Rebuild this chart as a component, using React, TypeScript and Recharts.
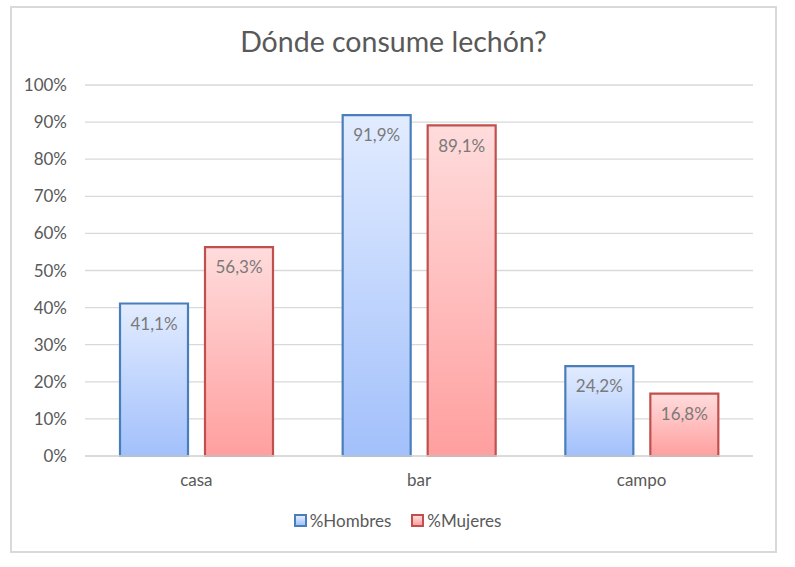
import React from 'react';
import { BarChart, Bar, XAxis, YAxis, CartesianGrid, LabelList } from 'recharts';

const categories = ['casa', 'bar', 'campo'];
const hombres = [41.1, 91.9, 24.2];
const mujeres = [56.3, 89.1, 16.8];
const yTicks = [0, 10, 20, 30, 40, 50, 60, 70, 80, 90, 100];
const title = 'Dónde consume lechón?';
const seriesNames = ['%Hombres', '%Mujeres'];

const data = categories.map((c, i) => ({ name: c, h: hombres[i], m: mujeres[i] }));

const FONT = 'Lato, "Noto Sans", sans-serif';
const fmt = (v: any) => `${Number(v).toFixed(1).replace('.', ',')}%`;

export default function App() {
  return (
    <div style={{ position: 'absolute', left: 0, top: 0, width: 795, height: 567, background: '#ffffff', fontFamily: FONT }}>
      <div style={{ position: 'absolute', left: 10, top: 6, width: 763, height: 543, border: '2px solid #d9d9d9', background: '#fff' }} />
      <div style={{ position: 'absolute', left: 0, top: 24, width: 787, textAlign: 'center', fontSize: 28.5, color: '#595959' }}>{title}</div>
      <div style={{ position: 'absolute', left: 0, top: 0 }}>
        <BarChart width={795} height={567} data={data} margin={{ top: 85, right: 42, bottom: 0, left: 0 }} barGap={17} barSize={68}>
          <defs>
            <linearGradient id="gBlue" x1="0" y1="0" x2="0" y2="1">
              <stop offset="0%" stopColor="#e2ecff" />
              <stop offset="100%" stopColor="#a2c0fb" />
            </linearGradient>
            <linearGradient id="gRed" x1="0" y1="0" x2="0" y2="1">
              <stop offset="0%" stopColor="#ffdcdc" />
              <stop offset="100%" stopColor="#ff9f9f" />
            </linearGradient>
          </defs>
          <CartesianGrid vertical={false} stroke="#d9d9d9" strokeWidth={1.3} />
          <XAxis dataKey="name" height={111} axisLine={{ stroke: '#d9d9d9', strokeWidth: 1.3 }} tickLine={false} tickSize={0} tickMargin={18}
            tick={{ fill: '#595959', fontSize: 17, fontFamily: FONT }} />
          <YAxis width={85} domain={[0, 100]} ticks={yTicks} axisLine={false} tickLine={false} tickSize={0} tickMargin={18}
            tickFormatter={(v: any) => `${v}%`} tick={{ fill: '#595959', fontSize: 17, fontFamily: FONT }} />
          <Bar dataKey="h" fill="url(#gBlue)" stroke="#4a7ebb" strokeWidth={2.2} isAnimationActive={false}>
            <LabelList dataKey="h" position="insideTop" offset={14} formatter={fmt} fill="#7a7a7a" fontSize={17} fontFamily={FONT} />
          </Bar>
          <Bar dataKey="m" fill="url(#gRed)" stroke="#c0504d" strokeWidth={2.2} isAnimationActive={false}>
            <LabelList dataKey="m" position="insideTop" offset={14} formatter={fmt} fill="#7a7a7a" fontSize={17} fontFamily={FONT} />
          </Bar>
        </BarChart>
      </div>
      <div style={{ position: 'absolute', left: 0, top: 510, width: 795, display: 'flex', justifyContent: 'center', fontSize: 17, color: '#595959' }}>
        {seriesNames.map((n, i) => (
          <div key={n} style={{ display: 'flex', alignItems: 'center', marginLeft: i ? 20 : 0 }}>
            <span style={{ display: 'inline-block', width: 9, height: 9, marginRight: 3, border: `2px solid ${i ? '#c0504d' : '#4a7ebb'}`,
              background: i ? 'linear-gradient(#ffdcdc,#ff9f9f)' : 'linear-gradient(#e2ecff,#a2c0fb)' }} />
            <span>{n}</span>
          </div>
        ))}
      </div>
    </div>
  );
}
